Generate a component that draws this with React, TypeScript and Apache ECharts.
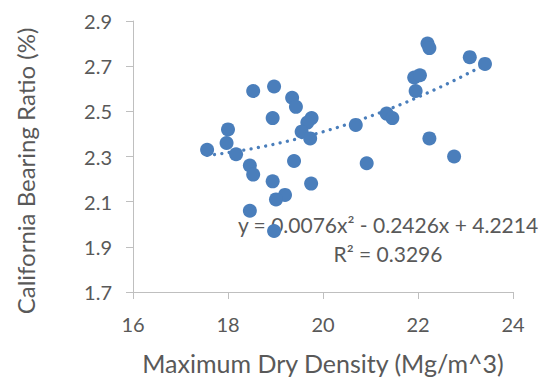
import React, { useEffect, useRef } from "react";
import * as echarts from "echarts";

const xValues = [
  17.56, 18.0, 17.97, 18.17, 18.46, 18.53, 18.53, 18.97, 19.35, 19.43,
  18.94, 19.76, 19.67, 19.55, 19.73, 19.39, 18.94, 19.2, 19.01, 19.75,
  18.46, 18.97, 20.69, 20.92, 22.2, 22.24, 23.09, 23.41, 21.92, 22.04,
  21.95, 21.34, 21.46, 22.24, 22.76,
];
const yValues = [
  2.33, 2.42, 2.36, 2.31, 2.26, 2.22, 2.59, 2.61, 2.56, 2.52,
  2.47, 2.47, 2.45, 2.41, 2.38, 2.28, 2.19, 2.13, 2.11, 2.18,
  2.06, 1.97, 2.44, 2.27, 2.8, 2.78, 2.74, 2.71, 2.65, 2.66,
  2.59, 2.49, 2.47, 2.38, 2.3,
];
// Polynomial trendline coefficients as displayed on the chart
const trendCoef = [0.0076, -0.2426, 4.2214];
const equationText = "y = 0.0076x\u00B2 - 0.2426x + 4.2214";
const r2Text = "R\u00B2 = 0.3296";
const xTitle = "Maximum Dry Density (Mg/m^3)";
const yTitle = "California Bearing Ratio (%)";

export default function App() {
  const ref = useRef<HTMLDivElement>(null);
  useEffect(() => {
    if (!ref.current) return;
    const chart = echarts.init(ref.current, null, { renderer: "svg" });
    const points = xValues.map((x, i) => [x, yValues[i]]);
    const xmin = Math.min(...xValues);
    const xmax = Math.max(...xValues);
    const trend: number[][] = [];
    const n = 60;
    for (let i = 0; i <= n; i++) {
      const x = xmin + ((xmax - xmin) * i) / n;
      trend.push([x, trendCoef[0] * x * x + trendCoef[1] * x + trendCoef[2]]);
    }
    const font = "Lato, 'Open Sans', sans-serif";
    const txt = "#595959";
    const axisCol = "#BFBFBF";
    chart.setOption({
      animation: false,
      backgroundColor: "#ffffff",
      grid: { left: 133, right: 36, top: 21, bottom: 85, containLabel: false },
      xAxis: {
        type: "value",
        min: 16,
        max: 24,
        interval: 2,
        name: xTitle,
        nameLocation: "middle",
        nameGap: 58,
        nameTextStyle: { color: txt, fontSize: 25, fontFamily: font },
        axisLine: { show: true, lineStyle: { color: axisCol, width: 1 } },
        axisTick: { show: true, length: 7, lineStyle: { color: axisCol } },
        axisLabel: { color: txt, fontSize: 20, fontFamily: font, margin: 22 },
        splitLine: { show: false },
      },
      yAxis: {
        type: "value",
        min: 1.7,
        max: 2.9,
        interval: 0.2,
        axisLine: { show: true, lineStyle: { color: axisCol, width: 1 } },
        axisTick: { show: true, length: 7, lineStyle: { color: axisCol } },
        axisLabel: {
          color: txt,
          fontSize: 20,
          fontFamily: font,
          margin: 21,
          formatter: (v: number) => v.toFixed(1),
        },
        splitLine: { show: false },
      },
      series: [
        {
          type: "line",
          data: trend,
          showSymbol: false,
          symbol: "none",
          smooth: false,
          lineStyle: { color: "#4A7EBB", width: 3.3, type: [0.01, 7.4], cap: "round" },
          z: 1,
          silent: true,
        },
        {
          type: "scatter",
          data: points,
          symbol: "circle",
          symbolSize: 14,
          itemStyle: { color: "#4A7EBB", opacity: 1 },
          z: 2,
        },
      ],
      graphic: [
        {
          type: "text",
          x: 25,
          y: 171,
          rotation: Math.PI / 2,
          style: {
            text: yTitle,
            fill: txt,
            fontSize: 24,
            fontFamily: font,
            textAlign: "center",
            textVerticalAlign: "middle",
          },
        },
        {
          type: "text",
          x: 388,
          y: 224,
          style: {
            text: equationText,
            fill: txt,
            fontSize: 21,
            fontFamily: font,
            textAlign: "center",
            textVerticalAlign: "middle",
          },
        },
        {
          type: "text",
          x: 388,
          y: 253,
          style: {
            text: r2Text,
            fill: txt,
            fontSize: 21,
            fontFamily: font,
            textAlign: "center",
            textVerticalAlign: "middle",
          },
        },
      ],
    });
    return () => chart.dispose();
  }, []);
  return (
    <div
      ref={ref}
      style={{ position: "fixed", left: 0, top: 0, width: 549, height: 380 }}
    />
  );
}
